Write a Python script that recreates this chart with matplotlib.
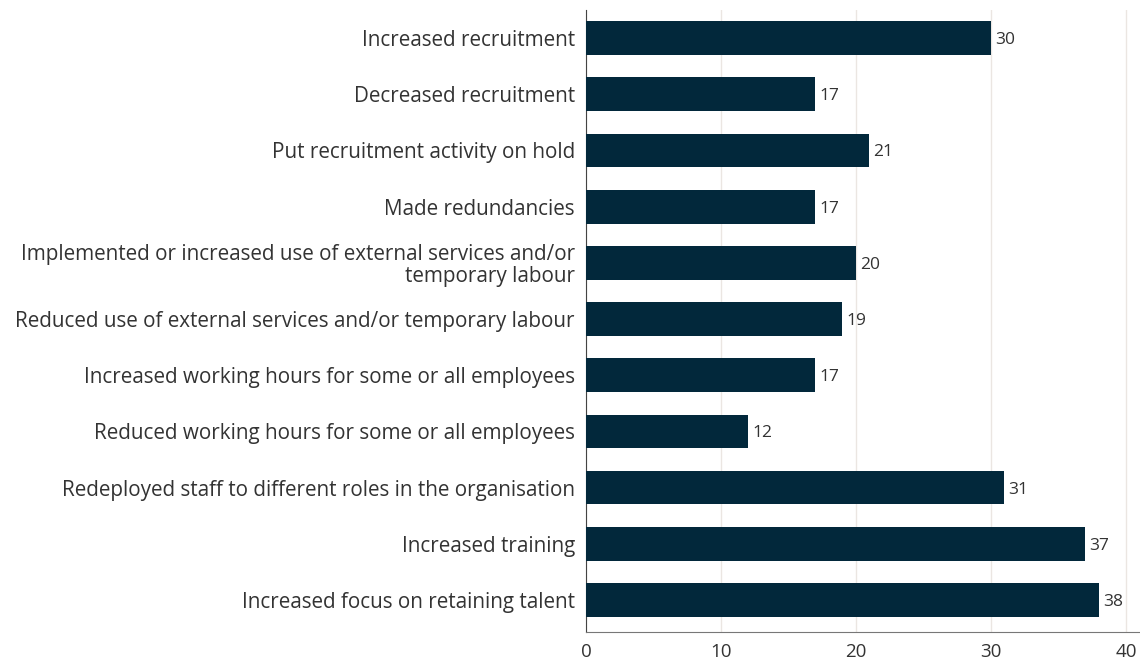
import numpy as np
import matplotlib
matplotlib.use("Agg")
from matplotlib import pyplot as plt

# actions taken, top to bottom
categories = [
    "Increased recruitment",
    "Decreased recruitment",
    "Put recruitment activity on hold",
    "Made redundancies",
    "Implemented or increased use of external services and/or\ntemporary labour",
    "Reduced use of external services and/or temporary labour",
    "Increased working hours for some or all employees",
    "Reduced working hours for some or all employees",
    "Redeployed staff to different roles in the organisation",
    "Increased training",
    "Increased focus on retaining talent",
]
values = [30, 17, 21, 17, 20, 19, 17, 12, 31, 37, 38]
xticks = [0, 10, 20, 30, 40]

plt.rcParams['font.family'] = ['Open Sans', 'DejaVu Sans']

fig = plt.figure(figsize=(11.4, 6.6), dpi=100)
ax = fig.add_axes([0.514, 0.0424, 0.486, 0.9424])

y = np.arange(len(categories))
bars = ax.barh(y, values, height=0.6, color='#02283b', zorder=3)
for b, v in zip(bars, values):
    ax.text(b.get_width() + 0.3, b.get_y() + b.get_height() / 2, str(v),
            va='center_baseline', ha='left', fontsize=12.5, color='#333333')

ax.set_yticks(y)
ax.set_yticklabels(categories, fontsize=14.9, color='#333333', linespacing=1.05)
ax.set_xticks(xticks)
ax.set_xticklabels([str(t) for t in xticks], fontsize=13.5, color='#333333')
ax.set_xlim(0, 41.04)
ax.set_ylim(10.57, -0.5)
ax.tick_params(length=0)
ax.tick_params(axis='y', pad=8)
ax.tick_params(axis='x', pad=8)
ax.grid(axis='x', color='#ebe6e2', linewidth=1, zorder=0)
ax.spines['top'].set_visible(False)
ax.spines['right'].set_visible(False)
ax.spines['left'].set_color('#444444')
ax.spines['bottom'].set_color('#777777')

plt.savefig('out.png', dpi=100)
